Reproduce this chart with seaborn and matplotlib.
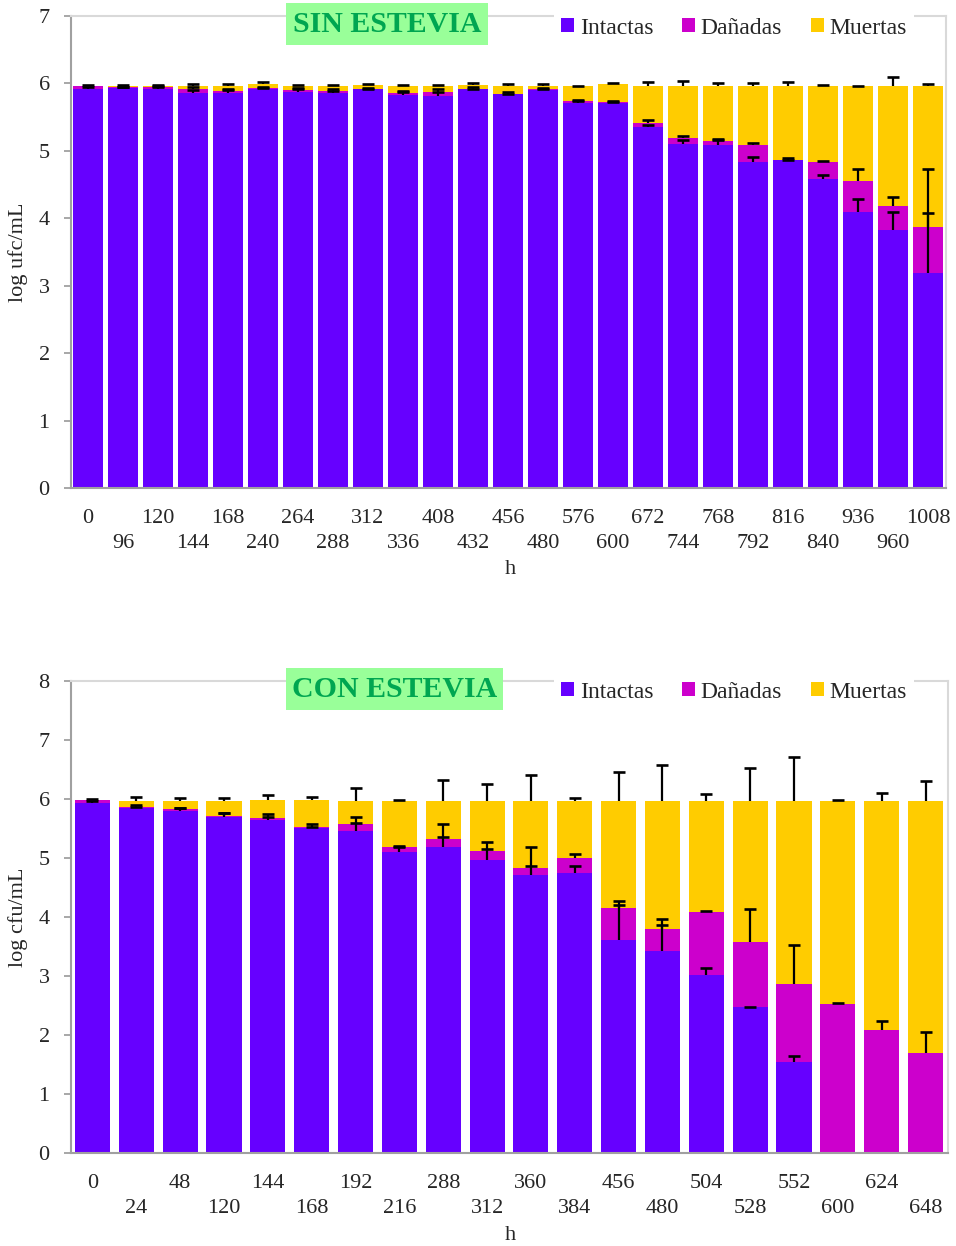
import numpy as np
import pandas as pd
import matplotlib
matplotlib.use("Agg")
import matplotlib.pyplot as plt
import seaborn as sns
from matplotlib.patches import Patch, Rectangle

# ---------------- data: SIN ESTEVIA ----------------
hours_sin = [0, 96, 120, 144, 168, 240, 264, 288, 312, 336, 408, 432, 456,
             480, 576, 600, 672, 744, 768, 792, 816, 840, 936, 960, 1008]
intact_sin = [5.91, 5.93, 5.91, 5.86, 5.86, 5.92, 5.88, 5.86, 5.91, 5.83, 5.82, 5.91, 5.84,
              5.90, 5.71, 5.71, 5.35, 5.10, 5.08, 4.83, 4.86, 4.58, 4.10, 3.83, 3.19]
damaged_sin = [0.05, 0.01, 0.03, 0.05, 0.03, 0.01, 0.02, 0.03, 0.01, 0.03, 0.05, 0.01, 0.01,
               0.01, 0.03, 0.01, 0.06, 0.09, 0.06, 0.26, 0.01, 0.25, 0.45, 0.35, 0.68]
dead_sin = [0.00, 0.02, 0.02, 0.05, 0.07, 0.06, 0.06, 0.07, 0.05, 0.10, 0.09, 0.06, 0.11,
            0.05, 0.22, 0.27, 0.55, 0.77, 0.82, 0.87, 1.09, 1.13, 1.41, 1.78, 2.09]
err_intact_sin = [0.03, 0.02, 0.04, 0.04, 0.04, 0.03, 0.04, 0.03, 0.02, 0.04, 0.05, 0.03, 0.03,
                  0.03, 0.05, 0.03, 0.03, 0.06, 0.08, 0.08, 0.04, 0.06, 0.19, 0.26, 0.89]
err_damaged_sin = [0.02, 0.01, 0.02, 0.03, 0.02, 0.00, 0.03, 0.02, 0.00, 0.03, 0.04, 0.00, 0.00,
                   0.00, 0.00, 0.00, 0.05, 0.03, 0.03, 0.03, 0.00, 0.02, 0.18, 0.13, 0.86]
err_dead_sin = [0.01, 0.01, 0.02, 0.03, 0.03, 0.03, 0.02, 0.02, 0.02, 0.02, 0.02, 0.02, 0.03,
                0.03, 0.00, 0.02, 0.06, 0.07, 0.05, 0.04, 0.06, 0.02, 0.00, 0.14, 0.03]

# ---------------- data: CON ESTEVIA ----------------
hours_con = [0, 24, 48, 120, 144, 168, 192, 216, 288, 312, 360, 384, 456, 480, 504,
             528, 552, 600, 624, 648]
intact_con = [5.93, 5.84, 5.79, 5.69, 5.64, 5.51, 5.46, 5.11, 5.19, 4.97, 4.72, 4.75, 3.61,
              3.42, 3.01, 2.47, 1.55, 0.0, 0.0, 0.0]
damaged_con = [0.05, 0.03, 0.04, 0.02, 0.04, 0.01, 0.11, 0.08, 0.14, 0.15, 0.11, 0.25, 0.54,
               0.37, 1.07, 1.10, 1.31, 2.52, 2.09, 1.69]
dead_con = [0.00, 0.10, 0.14, 0.26, 0.30, 0.46, 0.40, 0.78, 0.64, 0.85, 1.14, 0.97, 1.82,
            2.18, 1.89, 2.40, 3.11, 3.45, 3.88, 4.28]
err_intact_con = [0.03, 0.03, 0.05, 0.08, 0.06, 0.06, 0.14, 0.08, 0.17, 0.18, 0.15, 0.12, 0.66,
                  0.54, 0.13, 0.00, 0.09, 0.0, 0.0, 0.0]
err_damaged_con = [0.02, 0.02, 0.02, 0.05, 0.06, 0.00, 0.12, 0.01, 0.24, 0.15, 0.35, 0.07, 0.05,
                   0.08, 0.02, 0.57, 0.66, 0.02, 0.15, 0.36]
err_dead_con = [0.01, 0.06, 0.04, 0.04, 0.08, 0.05, 0.21, 0.02, 0.35, 0.28, 0.43, 0.05, 0.49,
                0.60, 0.11, 0.56, 0.75, 0.02, 0.14, 0.34]

series_names = ["Intactas", "Dañadas", "Muertas"]

PUR = "#6600FF"
MAG = "#CC00CC"
YEL = "#FFCC00"
AXG = "#A0A0A0"
BORD = "#D9D9D9"

sns.set_theme(style="white")
plt.rcParams["font.family"] = ["Liberation Serif", "DejaVu Serif"]

W, H = 956, 1246
fig = plt.figure(figsize=(W / 100, H / 100), dpi=100)


def fx(px):
    return px / W


def fy(py):
    return 1 - py / H


def draw(ax, hours, intact, damaged, dead, ei, ed, eD, ymax, width):
    df = pd.DataFrame({"h": [str(h) for h in hours],
                       "intact": intact, "damaged": damaged, "dead": dead})
    df["lvl2"] = df["intact"] + df["damaged"]
    df["total"] = df["lvl2"] + df["dead"]
    order = list(df["h"])
    for col, c in [("total", YEL), ("lvl2", MAG), ("intact", PUR)]:
        sns.barplot(data=df, x="h", y=col, order=order, color=c, width=width,
                    saturation=1, errorbar=None, linewidth=0, ax=ax)
    n = len(df)
    x = np.arange(n)
    for tops, err, base in [(df["intact"].values, np.array(ei), df["intact"].values),
                            (df["lvl2"].values, np.array(ed), df["damaged"].values),
                            (df["total"].values, np.array(eD), df["dead"].values)]:
        m = base > 0.005
        ax.errorbar(x[m], tops[m], yerr=[np.zeros(m.sum()), err[m]], fmt="none",
                    ecolor="black", elinewidth=1.6, capsize=0, zorder=5)
        ax.plot(x[m], tops[m] + err[m], linestyle="none", marker="_", markersize=8.4,
                markeredgewidth=1.9, color="black", zorder=6)
    ax.set_xlim(-0.5, n - 0.5)
    ax.set_ylim(0, ymax)
    ax.set_yticks(range(0, ymax + 1))
    ax.set_yticklabels([str(v) for v in range(0, ymax + 1)], fontsize=16)
    ax.set_xticks(x)
    ax.set_xticklabels([lab if i % 2 == 0 else "\n" + lab for i, lab in enumerate(order)],
                       fontsize=16, linespacing=1.42)
    ax.set_xticks(np.arange(-0.5, n, 1.0), minor=True)
    ax.tick_params(axis="x", which="major", length=0, pad=15)
    ax.tick_params(axis="x", which="minor", length=5, width=1.3, color=AXG, direction="out")
    ax.tick_params(axis="y", which="major", length=5, width=1.3, color=AXG, direction="out",
                   pad=10, left=True)
    ax.set_xlabel("")
    ax.set_ylabel("")
    for s in ["left", "bottom"]:
        ax.spines[s].set_color(AXG)
        ax.spines[s].set_linewidth(1.5)
    for s in ["top", "right"]:
        ax.spines[s].set_color(BORD)
        ax.spines[s].set_linewidth(1.5)
    ax.grid(False)


ax1 = fig.add_axes([fx(70.5), fy(488), fx(875), 472 / H])
draw(ax1, hours_sin, intact_sin, damaged_sin, dead_sin,
     err_intact_sin, err_damaged_sin, err_dead_sin, 7, 0.84)

ax2 = fig.add_axes([fx(70.5), fy(1153), fx(877), 472 / H])
draw(ax2, hours_con, intact_con, damaged_con, dead_con,
     err_intact_con, err_damaged_con, err_dead_con, 8, 0.80)

# axis labels
fig.text(fx(18), fy(252), "log ufc/mL", rotation=90, ha="center", va="center", fontsize=16)
fig.text(fx(18), fy(917), "log cfu/mL", rotation=90, ha="center", va="center", fontsize=16)
fig.text(fx(510), fy(570), "h", ha="center", va="center", fontsize=16)
fig.text(fx(510), fy(1235), "h", ha="center", va="center", fontsize=16)

# title boxes
for (x0, y0, w, h, txt) in [(286, 3, 202, 42, "SIN ESTEVIA"), (286, 668, 217, 42, "CON ESTEVIA")]:
    fig.patches.append(Rectangle((fx(x0), fy(y0 + h)), w / W, h / H, transform=fig.transFigure,
                                 facecolor="#99FF99", edgecolor="none", zorder=2))
    fig.text(fx(x0 + w / 2), fy(y0 + h / 2), txt, ha="center", va="center", fontsize=21.5,
             fontweight="bold", color="#00A651", zorder=3)

# legends
handles = [Patch(facecolor=c, edgecolor="none") for c in [PUR, MAG, YEL]]
for yc in [28, 692]:
    leg = fig.legend(handles, series_names, loc="center", bbox_to_anchor=(fx(734), fy(yc)),
                     ncol=3, fontsize=17, frameon=True, handlelength=0.55, handleheight=0.55,
                     handletextpad=0.25, columnspacing=1.2, borderpad=0.3, fancybox=False)
    leg.get_frame().set_facecolor("white")
    leg.get_frame().set_edgecolor("none")
    leg.get_frame().set_alpha(1)

fig.savefig("out.png", dpi=100)
